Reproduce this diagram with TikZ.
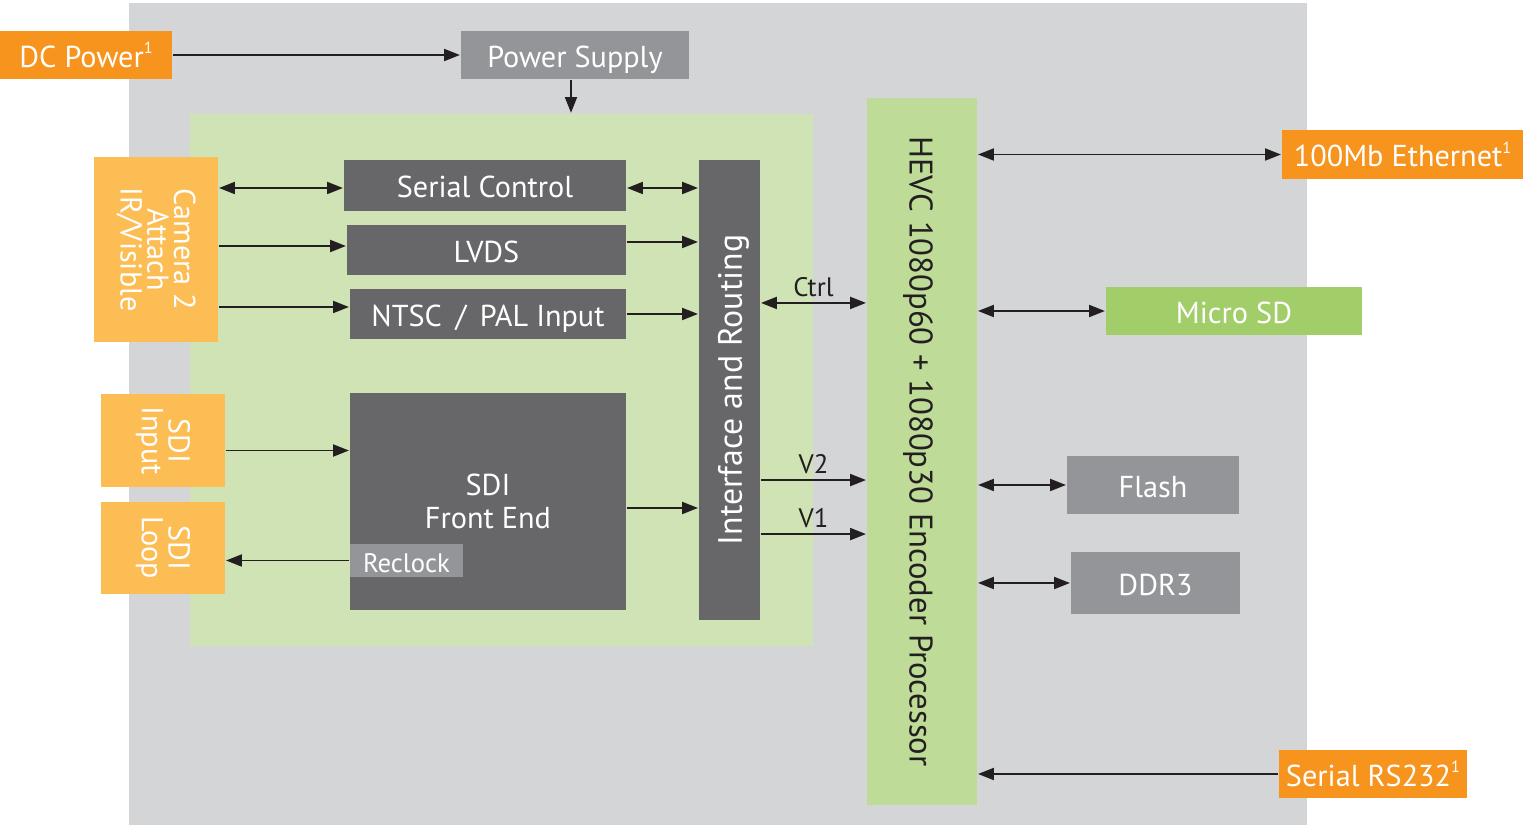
\documentclass[tikz,border=0pt]{standalone}
\usepackage{fontspec}
\setmainfont{PT Sans}
\usetikzlibrary{arrows.meta,positioning}

\definecolor{boardgray}{HTML}{D4D5D7}
\definecolor{fpgagreen}{HTML}{CFE3B5}
\definecolor{cpugreen}{HTML}{BEDC98}
\definecolor{sdgreen}{HTML}{A1CE69}
\definecolor{extorange}{HTML}{F7941D}
\definecolor{camorange}{HTML}{FDBD55}
\definecolor{darkblk}{HTML}{676769}
\definecolor{lightblk}{HTML}{939598}
\definecolor{wire}{HTML}{231F20}

\newcommand{\fnote}{\raisebox{0.9ex}{\fontsize{4.6}{5}\selectfont 1}}

\begin{document}
\begin{tikzpicture}[x=0.01cm,y=-0.01cm,>={Triangle[length=4.5pt,width=3.4pt]},
                    line width=0.55pt,color=wire,
                    font=\fontsize{8.6}{9.2}\selectfont,
                    blk/.style={fill=#1,text=white,inner sep=0pt,align=center},
                    line/.style={blk=#1,text height=0.7em,text depth=0pt},
                    port/.style={blk=#1,font=\fontsize{8.6}{7.6}\selectfont},
                    tag/.style={font=\fontsize{7.6}{9}\selectfont,inner sep=1.5pt}]
  \useasboundingbox (0,0) rectangle (1523,825);
  % board and fpga area
  \fill[boardgray] (129,3) rectangle (1307,825);
  \node[fill=fpgagreen,inner sep=0pt,minimum width=6.23cm,minimum height=5.32cm] (fpga) at (501.5,380) {};

  % external power
  \node[line=extorange,minimum width=1.72cm,minimum height=0.48cm] (dc) at (86,55) {DC Power\fnote};
  \node[line=lightblk,minimum width=2.28cm,minimum height=0.48cm] (psu) at (575,55) {Power Supply};

  % camera side
  \node[port=camorange,rotate=-90,minimum width=1.85cm,minimum height=1.24cm] (cam) at (156,249.5) {Camera 2\\Attach\\IR/Visible};
  \node[port=camorange,rotate=-90,minimum width=0.93cm,minimum height=1.24cm] (sdiin) at (163,440.5) {SDI\\Input};
  \node[port=camorange,rotate=-90,minimum width=0.92cm,minimum height=1.24cm] (sdiloop) at (163,548) {SDI\\Loop};

  % fpga blocks
  \node[line=darkblk,minimum width=2.82cm,minimum height=0.51cm] (serctl) at (485,185.5) {Serial Control};
  \node[line=darkblk,minimum width=2.79cm,minimum height=0.50cm] (lvds) at (486.5,250) {LVDS};
  \node[line=darkblk,minimum width=2.76cm,minimum height=0.50cm] (ntsc) at (488,314) {NTSC\hspace{0.45em}/\hspace{0.45em}PAL Input};
  \node[blk=darkblk,minimum width=2.76cm,minimum height=2.17cm] (sdife) at (488,501.5) {SDI\\Front End};
  \node[line=lightblk,font=\fontsize{7.6}{9}\selectfont,minimum width=1.13cm,minimum height=0.33cm] (reclock) at (406.5,560.5) {Reclock};
  \node[line=darkblk,rotate=90,minimum width=4.60cm,minimum height=0.61cm,font=\fontsize{9.6}{10}\selectfont] (ifr) at (729.5,390) {Interface and Routing};

  % processor and peripherals
  \node[fill=cpugreen,inner sep=0pt,text height=0.7em,text depth=0pt,rotate=-90,minimum width=7.07cm,minimum height=1.10cm,font=\fontsize{9.3}{10}\selectfont] (hevc) at (922,451.5) {HEVC 1080p60 + 1080p30 Encoder Processor};
  \node[line=extorange,minimum width=2.41cm,minimum height=0.49cm] (eth) at (1402.5,154.5) {100Mb Ethernet\fnote};
  \node[line=sdgreen,minimum width=2.56cm,minimum height=0.48cm] (msd) at (1234,311) {Micro SD};
  \node[line=lightblk,minimum width=1.72cm,minimum height=0.58cm] (flash) at (1153,485) {Flash};
  \node[line=lightblk,minimum width=1.69cm,minimum height=0.62cm] (ddr) at (1155.5,583) {DDR3};
  \node[line=extorange,minimum width=1.88cm,minimum height=0.48cm] (rs232) at (1373,774) {Serial RS232\fnote};

  % power
  \draw[->] (dc) -- (psu);
  \draw[->] ([xshift=-0.4mm]psu.south) -- ([xshift=-0.4mm]psu.south |- fpga.north);

  % inputs (rotated nodes: north is their right side)
  \draw[<->] ([yshift=-0.25mm]cam.north |- serctl.west) -- ([yshift=-0.25mm]serctl.west);
  \draw[->] (cam.north |- 0,246) -- (lvds.west |- 0,246);
  \draw[->] (cam.north |- 0,307) -- (ntsc.west |- 0,307);
  \draw[->] ([yshift=-1mm]sdiin.north) -- ([yshift=-1mm]sdiin.north -| sdife.west);
  \draw[->] (reclock.west) -- (reclock.west -| sdiloop.north);

  % into routing (ifr turned left: north is its left side)
  \draw[<->] ([yshift=-0.25mm]serctl.east) -- ([yshift=-0.25mm]serctl.east -| ifr.north);
  \draw[->] ([yshift=0.8mm]lvds.east) -- ([yshift=0.8mm]lvds.east -| ifr.north);
  \draw[->] (ntsc.east) -- (ntsc.east -| ifr.north);
  \draw[->] ([yshift=-0.65mm]sdife.east) -- ([yshift=-0.65mm]sdife.east -| ifr.north);

  % routing to processor
  \draw[<->] ([yshift=8.7mm]ifr.south) -- ([yshift=8.7mm]ifr.south -| hevc.south)
      node[tag,midway,above] {Ctrl};
  \draw[->] ([yshift=-9mm]ifr.south) -- ([yshift=-9mm]ifr.south -| hevc.south)
      node[tag,midway,above] {V2};
  \draw[->] ([yshift=-14.4mm]ifr.south) -- ([yshift=-14.4mm]ifr.south -| hevc.south)
      node[tag,midway,above] {V1};

  % peripherals
  \draw[<->] (eth.west -| hevc.north) -- (eth.west);
  \draw[<->] (msd.west -| hevc.north) -- (msd.west);
  \draw[<->] (flash.west -| hevc.north) -- (flash.west);
  \draw[<->] (ddr.west -| hevc.north) -- (ddr.west);
  \draw[->] (rs232.west) -- (rs232.west -| hevc.north);
\end{tikzpicture}
\end{document}
